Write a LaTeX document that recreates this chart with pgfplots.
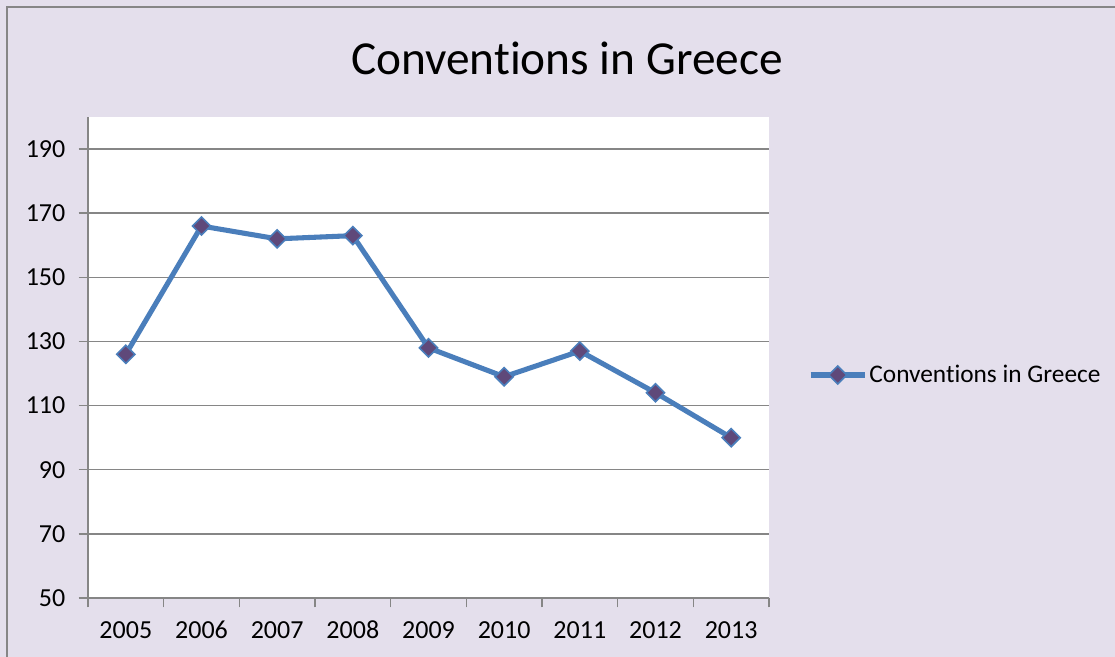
\documentclass[border=0pt]{standalone}
\usepackage{pgfplots}
\pgfplotsset{compat=1.18}
\usepackage{fontspec}
\setmainfont[Ligatures=NoCommon]{Carlito}
\definecolor{bg}{HTML}{E4DFEC}
\definecolor{gridc}{HTML}{868686}
\definecolor{lineblue}{HTML}{4A7EBB}
\definecolor{mk}{HTML}{5F497A}
\begin{document}
\begin{tikzpicture}
\useasboundingbox (0,0) rectangle (836.25pt,492.75pt);
\fill[bg] (0,0) rectangle (836.25pt,492.75pt);
\draw[gridc, line width=1.2pt] (5.25pt,0) -- (5.25pt,487.5pt) -- (836.25pt,487.5pt);
\node[font=\fontsize{35.5}{42}\selectfont, text=black] at (425.25pt,449.25pt) {Conventions in Greece};
\begin{axis}[
  at={(66pt,44.25pt)}, anchor=south west,
  scale only axis, width=510.75pt, height=360.75pt,
  xmin=-0.5, xmax=8.5, ymin=50, ymax=200,
  axis lines*=left,
  axis line style={-, gridc, line width=1.1pt},
  axis background/.style={fill=white},
  xtick={-0.5,0.5,...,8.5},
  x tick label as interval,
  xticklabels={2005,2006,2007,2008,2009,2010,2011,2012,2013},
  ytick={50,70,...,190},
  /pgf/number format/assume math mode=true,
  tick align=outside,
  major tick length=7pt,
  tick style={gridc, line width=1.1pt},
  ymajorgrids,
  major grid style={gridc, line width=1.1pt},
  ticklabel style={font=\fontsize{19.5}{23}\selectfont, text=black},
  xticklabel style={anchor=base, yshift=-23.5pt},
  yticklabel style={xshift=-6.5pt},
  clip=false,
  legend style={at={(1.057,0.4636)}, anchor=west, draw=none, fill=none,
    font=\fontsize{19}{23}\selectfont, inner sep=0pt,
    nodes={inner sep=1.5pt}},
  legend cell align=left,
  legend image code/.code={
    \draw[#1, mark repeat=2, mark phase=2] plot coordinates {(0cm,0cm) (0.715cm,0cm) (1.43cm,0cm)};
  },
]
\addplot[lineblue, line width=3.8pt, mark=square*, mark size=4.8pt,
  mark options={rotate=45, fill=mk, draw=lineblue, line width=1.2pt}]
  coordinates {(0,126) (1,166) (2,162) (3,163) (4,128) (5,119) (6,127) (7,114) (8,100)};
\addlegendentry{Conventions in Greece}
\end{axis}
\end{tikzpicture}
\end{document}
